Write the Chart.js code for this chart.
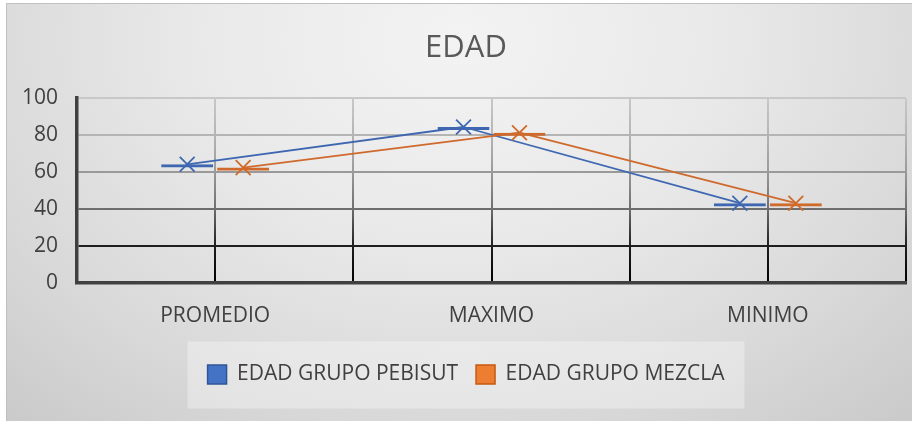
<!DOCTYPE html>
<html>
<head>
<meta charset="utf-8">
<script src="https://cdn.jsdelivr.net/npm/chart.js@4"></script>
<style>
html,body{margin:0;padding:0;background:#ffffff;overflow:hidden;width:912px;height:421px;}
#frame{position:absolute;left:6px;top:3px;width:940px;height:440px;
  border-top:1px solid #c0c0c0;border-left:1px solid #c0c0c0;
  background:radial-gradient(ellipse 70% 115% at 48% 8%, #f3f3f3 0%, #e9e9e9 40%, #d9d9d9 75%, #cbcbcb 100%);}
#wrap{position:absolute;left:0;top:0;width:918px;height:417px;}
</style>
</head>
<body>
<div id="frame"><div id="wrap"><canvas id="c" width="918" height="417"></canvas></div></div>
<script>
const chartTitle = 'EDAD';
const categories = ['PROMEDIO', 'MAXIMO', 'MINIMO'];
const seriesNames = ['EDAD GRUPO PEBISUT', 'EDAD GRUPO MEZCLA'];
const pebisut = [64.2, 84.4, 43.1];
const mezcla = [62.4, 81.3, 43.1];
const yTicks = [0, 20, 40, 60, 80, 100];

const FONT = "'Open Sans', 'DejaVu Sans', sans-serif";
const lineColors = ['#3F67B1', '#CF6A2C'];
const legendFill = ['#4472C4', '#ED7D31'];
const legendStroke = ['#2F5597', '#C55A11'];

function gridGrad(ctx) {
  const ch = ctx.chart;
  const a = ch.chartArea;
  if (!a) return '#999999';
  if (!ch.$gg || ch.$ggT !== a.top || ch.$ggB !== a.bottom) {
    const g = ch.ctx.createLinearGradient(0, a.top, 0, a.bottom);
    g.addColorStop(0, '#c8c8c8');
    g.addColorStop(0.2, '#b4b4b4');
    g.addColorStop(0.4, '#9a9a9a');
    g.addColorStop(0.6, '#6e6e6e');
    g.addColorStop(0.8, '#1e1e1e');
    g.addColorStop(1, '#000000');
    ch.$gg = g; ch.$ggT = a.top; ch.$ggB = a.bottom;
  }
  return ch.$gg;
}

const legendBg = {
  id: 'legendBg',
  beforeDraw(chart) {
    const lg = chart.legend;
    if (!lg || !lg.legendHitBoxes || !lg.legendHitBoxes.length) return;
    const hb = lg.legendHitBoxes;
    let minX = Infinity, maxX = -Infinity, minY = Infinity, maxY = -Infinity;
    hb.forEach(b => { minX = Math.min(minX, b.left); maxX = Math.max(maxX, b.left + b.width);
      minY = Math.min(minY, b.top); maxY = Math.max(maxY, b.top + b.height); });
    const cy = (minY + maxY) / 2;
    const ctx = chart.ctx;
    ctx.save();
    ctx.fillStyle = 'rgba(255,255,255,0.32)';
    ctx.fillRect(minX - 20, cy - 33, (maxX - minX) + 40, 67);
    ctx.restore();
  }
};

const seriesLines = {
  id: 'seriesLines',
  afterDatasetsDraw(chart) {
    const ctx = chart.ctx;
    chart.data.datasets.forEach((ds, i) => {
      const meta = chart.getDatasetMeta(i);
      if (meta.hidden) return;
      const pts = meta.data.map(el => ({ x: el.x, y: el.y }));
      ctx.save();
      ctx.strokeStyle = ds.lineColor;
      ctx.lineWidth = 1.8;
      ctx.lineJoin = 'round';
      ctx.beginPath();
      pts.forEach((p, k) => { if (k === 0) ctx.moveTo(p.x, p.y); else ctx.lineTo(p.x, p.y); });
      ctx.stroke();
      pts.forEach(p => {
        Chart.helpers.drawPoint(ctx, {
          pointStyle: 'crossRot', radius: 10.5, rotation: 0,
          borderWidth: 2
        }, p.x, p.y);
      });
      ctx.restore();
    });
  }
};

const datasets = [pebisut, mezcla].map((vals, i) => ({
  type: 'bar',
  label: seriesNames[i],
  data: vals,
  backgroundColor: 'rgba(0,0,0,0)',
  borderColor: lineColors[i],
  borderWidth: { top: 3, left: 0, right: 0, bottom: 0 },
  borderSkipped: false,
  categoryPercentage: 0.405,
  barPercentage: 0.93,
  lineColor: lineColors[i]
}));

new Chart(document.getElementById('c'), {
  type: 'bar',
  data: { labels: categories, datasets },
  options: {
    responsive: false,
    animation: false,
    devicePixelRatio: 1,
    layout: { padding: { left: 0, right: 0, top: 0, bottom: 26 } },
    plugins: {
      title: {
        display: true, text: chartTitle, color: '#595959',
        font: { family: FONT, size: 31, weight: 'normal' },
        padding: { top: 26, bottom: 31 }
      },
      legend: {
        position: 'bottom',
        labels: {
          font: { family: FONT, size: 21 },
          color: '#404040',
          boxWidth: 19, boxHeight: 19, padding: 18,
          generateLabels: (chart) => chart.data.datasets.map((ds, i) => ({
            text: ds.label, fillStyle: legendFill[i], strokeStyle: legendStroke[i],
            lineWidth: 1.5, hidden: false, datasetIndex: i, fontColor: '#404040'
          }))
        }
      },
      tooltip: { enabled: false }
    },
    scales: {
      x: {
        type: 'category', offset: true,
        grid: { offset: true, color: gridGrad, lineWidth: 2, drawTicks: false },
        border: { display: true, color: '#404040', width: 3.5 },
        ticks: { font: { family: FONT, size: 21 }, color: '#404040', padding: 21 },
        afterFit: (s) => { s.height -= 4; }
      },
      xc: {
        type: 'category', offset: true, position: 'bottom',
        grid: { offset: false, color: gridGrad, lineWidth: 2, drawTicks: false },
        ticks: { display: false },
        border: { display: false },
        afterFit: (s) => { s.height = 0; }
      },
      y: {
        min: yTicks[0], max: yTicks[yTicks.length - 1],
        ticks: { stepSize: yTicks[1] - yTicks[0], font: { family: FONT, size: 21 }, color: '#404040', padding: 19 },
        grid: { color: gridGrad, lineWidth: 2, drawTicks: false },
        border: { display: true, color: '#404040', width: 3.5 },
        afterFit: (s) => { s.width = 70; }
      },
      yr: {
        position: 'right', display: true,
        grid: { display: false }, ticks: { display: false }, border: { display: false },
        afterFit: (s) => { s.width = 19; }
      }
    }
  },
  plugins: [legendBg, seriesLines]
});
</script>
</body>
</html>
